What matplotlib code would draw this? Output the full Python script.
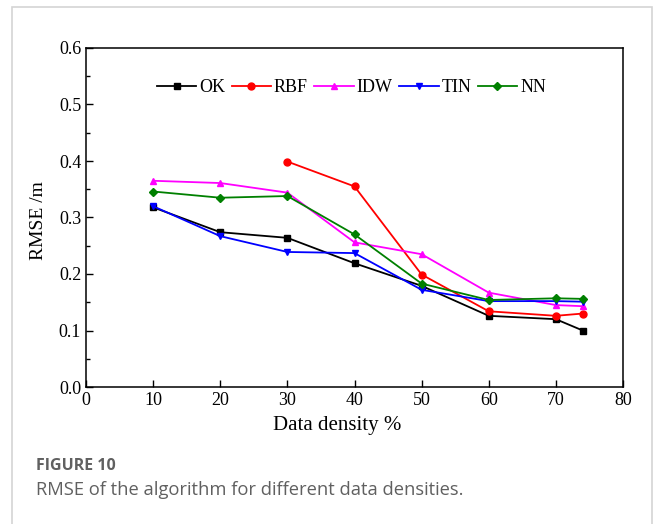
import matplotlib
import matplotlib.pyplot as plt
from matplotlib.patches import Rectangle
from matplotlib.ticker import MultipleLocator, FormatStrFormatter

matplotlib.use("Agg")

density = [10, 20, 30, 40, 50, 60, 70, 74]
ok = [0.318, 0.274, 0.264, 0.219, 0.179, 0.126, 0.120, 0.100]
rbf_density = [30, 40, 50, 60, 70, 74]
rbf = [0.399, 0.355, 0.199, 0.134, 0.126, 0.130]
idw = [0.365, 0.361, 0.344, 0.256, 0.235, 0.167, 0.145, 0.143]
tin = [0.320, 0.267, 0.239, 0.237, 0.172, 0.152, 0.152, 0.151]
nn = [0.346, 0.335, 0.338, 0.270, 0.183, 0.154, 0.157, 0.156]

serif = ["Liberation Serif", "DejaVu Serif"]

fig = plt.figure(figsize=(6.54, 5.24), dpi=100)
# light page frame around the figure and caption
fig.patches.append(Rectangle((12 / 654, -0.05), 640 / 654, 1.05 - 7 / 524,
                             transform=fig.transFigure, fill=False,
                             edgecolor="#d4d4d4", linewidth=1.2))

ax = fig.add_axes([86 / 654, 1 - 387 / 524, 537 / 654, 339 / 524])

kw = dict(linewidth=1.3, markersize=5)
ax.plot(density, ok, color="#000000", marker="s", label="OK", **kw)
ax.plot(rbf_density, rbf, color="#ff0000", marker="o", label="RBF", **kw)
ax.plot(density, idw, color="#ff00ff", marker="^", label="IDW", **kw)
ax.plot(density, tin, color="#0000ff", marker="v", label="TIN", **kw)
ax.plot(density, nn, color="#008000", marker="D", label="NN", linewidth=1.3, markersize=4.5)

ax.set_xlim(0, 80)
ax.set_ylim(0, 0.6)
ax.xaxis.set_major_locator(MultipleLocator(10))
ax.yaxis.set_major_locator(MultipleLocator(0.1))
ax.yaxis.set_minor_locator(MultipleLocator(0.05))
ax.yaxis.set_major_formatter(FormatStrFormatter("%.1f"))
ax.tick_params(direction="in", length=5, width=1, labelsize=13, top=False, right=False)
ax.tick_params(which="minor", direction="in", length=3, width=1, left=True)
for lab in ax.get_xticklabels() + ax.get_yticklabels():
    lab.set_fontfamily(serif)
for s in ax.spines.values():
    s.set_linewidth(1.1)

ax.set_xlabel("Data density %", fontsize=15, family=serif)
ax.xaxis.set_label_coords(0.467, -0.087)
ax.set_ylabel("RMSE /m", fontsize=14, family=serif)
ax.yaxis.set_label_coords(-0.072, 0.49)

ax.legend(loc="upper center", bbox_to_anchor=(0.494, 0.93), ncol=5, frameon=False,
          prop={"family": serif, "size": 13}, handlelength=2.2, handletextpad=0.15,
          columnspacing=0.35, borderaxespad=0)

fig.text(36 / 654, 1 - 466 / 524, "FIGURE 10", fontsize=11.5, fontweight="bold",
         color="#606060", family="Open Sans", va="center")
fig.text(36 / 654, 1 - 490 / 524, "RMSE of the algorithm for different data densities.",
         fontsize=13.2, color="#606060", family="Open Sans", va="center")

fig.savefig("out.png", dpi=100)
